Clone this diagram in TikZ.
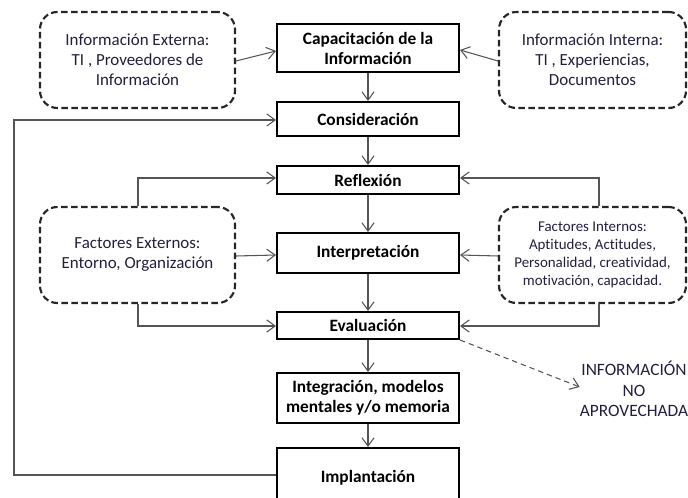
\documentclass[tikz,border=0pt]{standalone}
\usepackage{fontspec}
\setmainfont{Carlito}[Ligatures=NoCommon]
\usetikzlibrary{arrows.meta}
\definecolor{txtc}{RGB}{35,30,62}
\definecolor{linec}{RGB}{85,85,85}
\begin{document}
\begin{tikzpicture}[x=0.75pt,y=-0.75pt,
  procbox/.style={draw=black,line width=1.5pt,minimum width=182*0.75pt,align=center,inner sep=0pt,
    font=\fontsize{13}{15}\selectfont\bfseries},
  dashbox/.style={draw=black!85,line width=1.6pt,dash pattern=on 5pt off 2.5pt,rounded corners=13pt,
    minimum width=195*0.75pt,minimum height=96*0.75pt,align=center,inner sep=0pt,text=txtc,
    font=\fontsize{12.7}{15}\selectfont},
  conn/.style={draw=linec,line width=0.8pt,-{Straight Barb[length=2.2mm,width=3.2mm]}},
  dconn/.style={conn,dash pattern=on 4pt off 3pt}]
\useasboundingbox (0,0) rectangle (688,498);
% process boxes
\node[procbox,minimum height=48*0.75pt] (cap) at (368,48.5) {Capacitación de la\\Información};
\node[procbox,minimum height=34*0.75pt] (con) at (368,119) {Consideración};
\node[procbox,minimum height=28*0.75pt] (ref) at (368,180) {Reflexión};
\node[procbox,minimum height=40*0.75pt] (int) at (368,253) {Interpretación};
\node[procbox,minimum height=27*0.75pt] (eva) at (368,325.5) {Evaluación};
\node[procbox,minimum height=50*0.75pt] (itg) at (368,398) {Integración, modelos\\mentales y/o memoria};
\node[procbox,minimum height=60*0.75pt] (imp) at (368,478) {Implantación};
% dashed boxes
\node[dashbox] (iex) at (137.5,60) {Información Externa:\\TI , Proveedores de\\Información};
\node[dashbox,minimum width=187*0.75pt] (iin) at (592.5,60) {Información Interna:\\TI , Experiencias,\\Documentos};
\node[dashbox] (fex) at (137.5,255) {Factores Externos:\\Entorno, Organización};
\node[dashbox,minimum width=187*0.75pt,font=\fontsize{11.2}{13.5}\selectfont] (fin) at (592.5,255) {Factores Internos:\\Aptitudes, Actitudes,\\Personalidad, creatividad,\\motivación, capacidad.};
\node[text=txtc,align=center,inner sep=0pt,font=\fontsize{13}{15.4}\selectfont] (noap) at (634,389) {INFORMACIÓN\\NO\\APROVECHADA};
% connectors
\draw[conn] (iex.east |- 0,61) -- (cap.west |- 0,51);
\draw[conn] (iin.west |- 0,61) -- (cap.east |- 0,50);
\draw[conn] (cap) -- (con);
\draw[conn] (con) -- (ref);
\draw[conn] (ref) -- (int);
\draw[conn] (int) -- (eva);
\draw[conn] (eva) -- (itg);
\draw[conn] (itg) -- (imp);
\coordinate (fb1) at (14,475);
\coordinate (fb2) at (14,120);
\draw[conn] (imp.west |- 0,475) -- (fb1) -- (fb2) -- (con.west |- 0,120);
\draw[conn] (fex.north -| 138,0) -- (138,178) -- (ref.west |- 0,178);
\draw[conn] (fex.east |- 0,256) -- (int.west |- 0,255);
\draw[conn] (fex.south -| 138,0) -- (138,326) -- (eva.west |- 0,326);
\draw[conn] (fin.north -| 599,0) -- (599,178) -- (ref.east |- 0,178);
\draw[conn] (fin.west |- 0,256) -- (int.east |- 0,255);
\draw[conn] (fin.south -| 599,0) -- (599,326) -- (eva.east |- 0,326);
\draw[dconn] (eva.south east) -- (noap.west |- 0,387);
\end{tikzpicture}
\end{document}
